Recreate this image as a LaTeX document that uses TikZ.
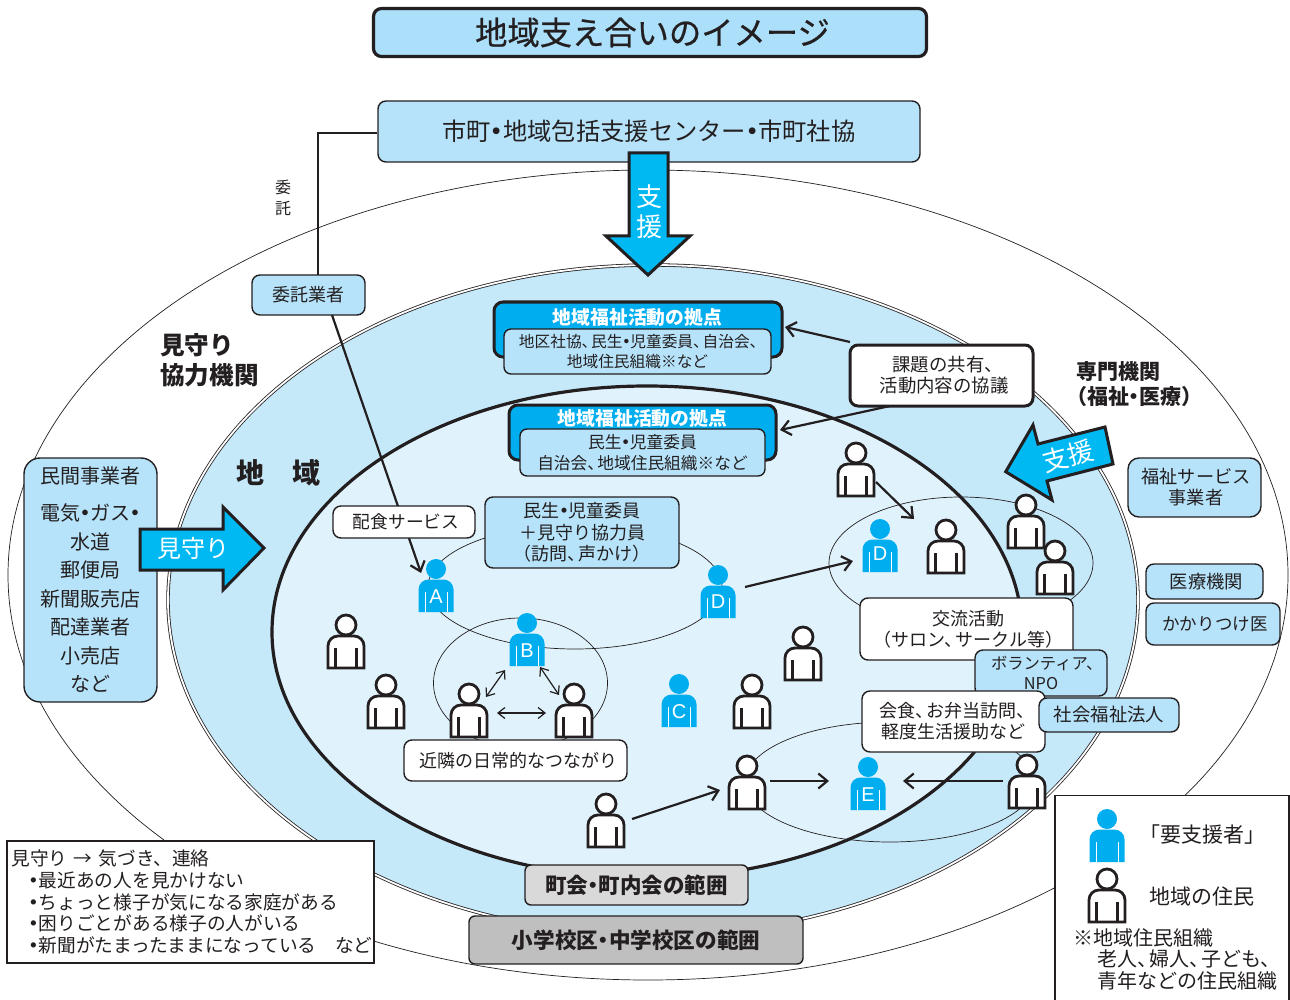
\documentclass[tikz,border=0pt]{standalone}
\usepackage{fontspec}
\setmainfont{Noto Sans CJK JP}
\newfontfamily\medfont[FakeBold=0.6]{Noto Sans CJK JP}
\newfontfamily\latfont{Liberation Sans}
\usetikzlibrary{arrows.meta}
\definecolor{ink}{HTML}{231F20}
\definecolor{cyanf}{HTML}{00AEEF}
\definecolor{cyanb}{HTML}{00B9F2}
\definecolor{paleA}{HTML}{B6E3FA}
\definecolor{titleF}{HTML}{ABDFFA}
\definecolor{midF}{HTML}{C6E9FA}
\definecolor{inF}{HTML}{E0F3FC}
\newcommand\myfs[2]{\fontsize{#1}{#2}\selectfont}
\newcommand\dt{\kern-.25em {\bfseries ・}\kern-.25em }
\newcommand\tn{、\kern-.4em }
\tikzset{
  x=1pt,y=-1pt,
  every node/.style={text=ink,inner sep=0pt,align=center},
  boxb/.style={draw=ink,line width=1.4pt,fill=paleA,rounded corners=8pt},
  boxw/.style={draw=ink,line width=1.4pt,fill=white,rounded corners=8pt},
  base/.style={draw=ink,line width=3pt,fill=cyanf,rounded corners=9pt},
  thinell/.style={draw=ink,line width=.7pt},
  conn/.style={draw=ink,line width=2.2pt,-{Straight Barb[length=9pt,width=15pt,line width=2.2pt]}},
  thinconn/.style={draw=ink,line width=1.2pt,{Straight Barb[length=7pt,width=11pt,line width=1.2pt]}-{Straight Barb[length=7pt,width=11pt,line width=1.2pt]}},
  bigarrow/.style={draw=ink,line width=3pt,fill=cyanb,line join=miter},
  whitetext/.style={text=white},
  resident/.pic={
    \draw[ink,line width=2.8pt,fill=white,line join=miter]
      (-18,43) {[rounded corners=10pt] -- (-18,11) -- (18,11)} -- (18,43) -- cycle;
    \draw[ink,line width=3.8pt] (-10.5,23) -- (-10.5,43) (10.5,23) -- (10.5,43);
    \draw[ink,line width=2.8pt,fill=white] (0,0) circle[radius=10];
  },
  needful/.pic={
    \fill[cyanf] (0,0) circle[radius=10];
    \fill[cyanf] (-17.5,43) {[rounded corners=10pt] -- (-17.5,10.5) -- (17.5,10.5)} -- (17.5,43) -- cycle;
    \draw[white,line width=.8pt] (-11,23) -- (-11,43) (11,23) -- (11,43);
  },
  lettr/.style={text=white,font=\latfont\myfs{20}{20}},
}
\begin{document}
\begin{tikzpicture}
\useasboundingbox (0,0) rectangle (1290,1000);
\fill[white] (0,0) rectangle (1290,1000);
% ranges
\draw[ink,line width=.7pt] (648,575) ellipse[x radius=640,y radius=405];
\draw[draw=ink,line width=.8pt,double=white,double distance=1.8pt,fill=midF] (653,600) ellipse[x radius=485,y radius=335];
\draw[ink,line width=3.2pt,fill=inF] (647,632) ellipse[x radius=375,y radius=246];
% thin circles of relations
\draw[thinell] (575,587) ellipse[x radius=147,y radius=62];
\draw[thinell] (520.5,683) ellipse[x radius=87,y radius=65];
\draw[thinell] (961,563) ellipse[x radius=132,y radius=66];
\draw[thinell] (890,782) ellipse[x radius=145,y radius=60];

% title
\node[draw=ink,line width=3.2pt,fill=titleF,rounded corners=8pt,minimum width=553pt,minimum height=48pt,font=\medfont\myfs{32.3}{32.3}] (title) at (650,32.5) {\hspace*{5pt}地域支え合いのイメージ};

% centre and entrust line
\node[boxb,minimum width=542pt,minimum height=61pt,font=\myfs{24.3}{24.3}] (center) at (649,131.5) {\raisebox{-1pt}{市町\dt 地域包括支援センター\dt 市町社協}};
\node[boxb,minimum width=113pt,minimum height=40pt,font=\myfs{18}{18}] (itaku) at (308.5,295) {委託業者};
\coordinate (itakuCorner) at (318,133);
\coordinate (itakuTop) at (318,275);
\draw[ink,line width=1.8pt] (center.west |- itakuCorner) -- (itakuCorner) -- (itakuTop);
\node[font=\myfs{16}{21}] (itakuLabel) at (283,198) {委\\託};
\coordinate (itakuStart) at (332,315);
\coordinate (itakuEnd) at (421,573);
\draw[conn] (itakuStart) -- (itakuEnd);

% support arrow down
\draw[bigarrow] (629,153) -- (668,153) -- (668,236) -- (690,236) -- (648,275) -- (606,236) -- (629,236) -- cycle;
\node[whitetext,font=\myfs{26}{30}] (shienA) at (649,212) {支\\援};

% base boxes
\node[base,minimum width=288pt,minimum height=55pt] (base1) at (638,329.5) {};
\node[whitetext,font=\bfseries\myfs{18.8}{18.8}] (base1t) at (637.5,317) {地域福祉活動の拠点};
\node[boxb,rounded corners=7pt,minimum width=267pt,minimum height=45pt,font=\myfs{15.7}{20}] (base1b) at (637.5,351.5) {\hspace*{3pt}地区社協\tn 民生\dt 児童委員\tn 自治会\tn\\地域住民組織※など};
\node[base,minimum width=267pt,minimum height=55pt] (base2) at (642.5,432.5) {};
\node[whitetext,font=\bfseries\myfs{18.8}{18.8}] (base2t) at (642.5,418) {地域福祉活動の拠点};
\node[boxb,rounded corners=7pt,minimum width=245pt,minimum height=47pt,font=\myfs{16.7}{21}] (base2b) at (642.5,452.5) {民生\dt 児童委員\\自治会\tn 地域住民組織※など};

% discussion
\coordinate (disc1) at (850,342);
\coordinate (disc1e) at (785,327);
\coordinate (disc2) at (890,406);
\coordinate (disc2e) at (780,430);
\draw[conn] (disc1) -- (disc1e);
\draw[conn] (disc2) -- (disc2e);
\node[draw=ink,line width=3pt,fill=white,rounded corners=8pt,minimum width=183pt,minimum height=61pt,font=\myfs{18.4}{21}] (disc) at (941.5,375.5) {\hspace*{5pt}課題の共有\tn\\\hspace*{5pt}活動内容の協議};

% headings
\node[anchor=west,align=left,font=\bfseries\myfs{24.6}{30}] (mimo) at (160,360) {見守り\\協力機関};
\node[font=\bfseries\myfs{28}{28}] (chiiki) at (278,473) {地　域};
\node[anchor=west,align=left,font=\bfseries\myfs{21}{25}] (senmon) at (1076,384) {専門機関\\\hspace*{-10pt}（福祉\dt 医療）};

% left group
\node[boxb,rounded corners=16pt,minimum width=133pt,minimum height=244pt,font=\myfs{20}{28.5}] (minkan) at (90.5,580) {民間事業者\\[8.5pt]電気\dt ガス\dt \\水道\\郵便局\\新聞販売店\\配達業者\\小売店\\など};
\draw[bigarrow] (140,529) -- (223,529) -- (223,507) -- (264,548) -- (223,590) -- (223,570) -- (140,570) -- cycle;
\node[whitetext,font=\myfs{24}{24}] (mimoA) at (193,548) {見守り};

% right group
\draw[bigarrow] (1005.7,471.7) -- (1033,425) -- (1038,444) -- (1105,427) -- (1113,464) -- (1047,481) -- (1052,500) -- cycle;
\node[whitetext,rotate=15,font=\myfs{26}{26}] (shienB) at (1068,456) {支援};
\node[boxb,rounded corners=11pt,minimum width=133pt,minimum height=59pt,font=\myfs{18.2}{21}] (fukushi) at (1194.5,487.5) {\hspace*{3pt}福祉サービス\\\hspace*{3pt}事業者};
\node[boxb,minimum width=117pt,minimum height=35pt,font=\myfs{18.3}{18.3}] (iryo) at (1204.5,581.5) {\hspace*{4pt}医療機関};
\node[boxb,minimum width=134pt,minimum height=42pt,font=\myfs{17.5}{17.5}] (kakari) at (1213,624) {\hspace*{4pt}かかりつけ医};

% relation labels
\node[boxw,minimum width=142pt,minimum height=32pt,font=\myfs{17.7}{17.7}] (haishoku) at (404,522) {\hspace*{4pt}配食サービス};
\node[boxb,minimum width=194pt,minimum height=71pt,font=\myfs{18}{21.5}] (mimoin) at (582,532.5) {民生\dt 児童委員\\＋見守り協力員\\（訪問\tn 声かけ）};
\node[boxw,minimum width=213pt,minimum height=62pt,font=\myfs{18}{21}] (koryu) at (966.5,629) {\hspace*{4pt}交流活動\\\hspace*{4pt}（サロン\tn サークル等）};
\node[boxb,minimum width=132pt,minimum height=46pt,font=\myfs{16.3}{20}] (npo) at (1041,673) {\hspace*{5pt}ボランティア\tn\\NPO};
\node[boxw,minimum width=183pt,minimum height=61pt,font=\myfs{18}{21}] (kaishoku) at (953.5,721.5) {会食\tn お弁当訪問\tn\\軽度生活援助など};
\node[boxb,minimum width=140pt,minimum height=34pt,font=\myfs{18.4}{18.4}] (shafuku) at (1109,715) {社会福祉法人};
\node[boxw,minimum width=223pt,minimum height=41pt,font=\myfs{18}{18}] (kinrin) at (515.5,760.5) {\hspace*{5pt}近隣の日常的なつながり};

% connectors between people
\coordinate (pa1) at (876,482); \coordinate (pa1e) at (914,519);
\coordinate (pa2) at (745,587); \coordinate (pa2e) at (853,561);
\coordinate (pa3) at (632,819); \coordinate (pa3e) at (720,790);
\coordinate (pa4) at (770,781); \coordinate (pa4e) at (829,781);
\coordinate (pa5) at (1003,781); \coordinate (pa5e) at (903,781);
\coordinate (pb1) at (505,670); \coordinate (pb1e) at (486,697);
\coordinate (pb2) at (540,667); \coordinate (pb2e) at (559,695);
\coordinate (pb3) at (497,713); \coordinate (pb3e) at (546,713);
\draw[conn] (pa1) -- (pa1e);
\draw[conn] (pa2) -- (pa2e);
\draw[conn] (pa3) -- (pa3e);
\draw[conn] (pa4) -- (pa4e);
\draw[conn] (pa5) -- (pa5e);
\draw[thinconn] (pb1) -- (pb1e);
\draw[thinconn] (pb2) -- (pb2e);
\draw[thinconn] (pb3) -- (pb3e);

% residents
\pic at (856,453) {resident};
\pic at (946,530) {resident};
\pic at (1026,505) {resident};
\pic at (1055,551) {resident};
\pic at (1027,765) {resident};
\pic at (346,625) {resident};
\pic at (386,685) {resident};
\pic at (469,694) {resident};
\pic at (574,694) {resident};
\pic at (606,804) {resident};
\pic at (803,637) {resident};
\pic at (752,685) {resident};
\pic at (747,766) {resident};

% people needing support
\pic at (436,569) {needful}; \node[lettr] (lA) at (436,597) {A};
\pic at (718,575) {needful}; \node[lettr] (lD) at (718,602) {D};
\pic at (527,623) {needful}; \node[lettr] (lB) at (527,651) {B};
\pic at (679,684) {needful}; \node[lettr] (lC) at (679,712) {C};
\pic at (880,529) {needful}; \node[lettr] (lD2) at (880,554) {D};
\pic at (868,767) {needful}; \node[lettr] (lE) at (868,795) {E};

% range labels
\node[draw=ink,line width=1.4pt,fill=black!15,rounded corners=6pt,minimum width=223pt,minimum height=40pt,font=\bfseries\myfs{21.5}{21.5}] (town) at (636.5,885) {町会\dt 町内会の範囲};
\node[draw=ink,line width=1.4pt,fill=black!25,rounded corners=6pt,minimum width=334pt,minimum height=48pt,font=\bfseries\myfs{21.6}{21.6}] (school) at (636,940) {小学校区\dt 中学校区の範囲};

% notes
\node[draw=ink,line width=1.4pt,fill=white,minimum width=367pt,minimum height=122pt,text width=358pt,align=left,font=\myfs{18.7}{21.7},inner xsep=4.5pt] (notes) at (190.5,902) {見守り → 気づき、連絡\\
\hspace*{18pt}\dt 最近あの人を見かけない\\
\hspace*{18pt}\dt ちょっと様子が気になる家庭がある\\
\hspace*{18pt}\dt 困りごとがある様子の人がいる\\
\hspace*{18pt}\dt 新聞がたまったままになっている　など};

% legend
\draw[ink,line width=1.5pt,fill=white] (1055,795.5) rectangle (1289,1004);
\pic at (1107,819) {needful};
\pic at (1107,879) {resident};
\node[font=\myfs{21}{21}] (legA) at (1202,835) {「要支援者」};
\node[font=\myfs{21}{21}] (legB) at (1202,896) {地域の住民};
\node[anchor=north west,align=left,font=\myfs{20}{21.7}] (legC) at (1073,928) {※地域住民組織\\\hspace*{24pt}老人\tn 婦人\tn 子ども\tn\\\hspace*{24pt}青年などの住民組織};
\end{tikzpicture}
\end{document}
